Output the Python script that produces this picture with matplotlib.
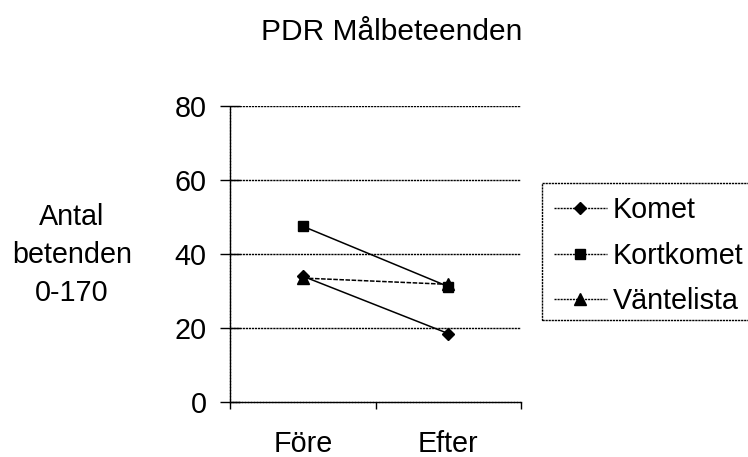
import matplotlib
matplotlib.use("Agg")
import matplotlib.pyplot as plt
from matplotlib.lines import Line2D
from matplotlib.patches import Rectangle

plt.rcParams['font.family'] = ['Liberation Sans', 'DejaVu Sans']

categories = ["Före", "Efter"]
series_names = ["Komet", "Kortkomet", "Väntelista"]
komet = [34, 18.5]
kortkomet = [47.5, 31.2]
vantelista = [33.5, 31.8]
yticks = [0, 20, 40, 60, 80]
title = "PDR Målbeteenden"
ylabel = "Antal\nbetenden\n0-170"

FS = 20.7
W, H = 748, 457
fig = plt.figure(figsize=(7.48, 4.57), dpi=100)
ax = fig.add_axes([230/W, 1-402/H, (521-230)/W, (402-106)/H])

xpos = [0.5, 1.5]
markers = ['D', 's', '^']
msizes = [6.5, 7, 8.5]
data = [komet, kortkomet, vantelista]
styles = ['-', '-', (0, (3, 1))]
for vals, m, ms, ls in zip(data, markers, msizes, styles):
    ax.plot(xpos, vals, color='black', lw=1.1, ls=ls, marker=m, ms=ms,
            markerfacecolor='black', markeredgecolor='black', zorder=3)

dot = (0, (1.6, 0.6))
ax.set_xlim(0, 2)
ax.set_ylim(0, 80)
ax.set_yticks(yticks)
ax.set_yticklabels([str(v) for v in yticks], fontsize=FS)
for y in yticks[1:]:
    ax.axhline(y, color='black', lw=1.0, ls=dot, zorder=1)
ax.set_xticks([0, 1, 2])
ax.set_xticklabels(['', '', ''])
ax.set_xticks(xpos, minor=True)
ax.set_xticklabels(categories, minor=True, fontsize=FS)
ax.tick_params(axis='x', which='minor', length=0, pad=20.5)
ax.tick_params(axis='x', which='major', direction='out', length=5, width=1.0)
ax.tick_params(axis='y', direction='inout', length=14, width=1.0, pad=10)
for s in ['top', 'right']:
    ax.spines[s].set_visible(False)
for s in ['left', 'bottom']:
    ax.spines[s].set_linestyle(dot)
    ax.spines[s].set_linewidth(1.0)

fig.text(392/W, 1-32/H, title, fontsize=21.5, ha='center', va='center')
fig.text(72/W, 1-255/H, ylabel, fontsize=FS, ha='center', va='center',
         linespacing=1.45)

handles = [Line2D([], [], color='black', lw=1.0, ls=(0, (1.5, 0.7)), marker=m,
                  ms=ms, markerfacecolor='black', markeredgecolor='black')
           for m, ms in zip(markers, msizes)]
leg = fig.legend(handles, series_names, loc='upper left',
                 bbox_to_anchor=(542/W, 1-185/H), borderaxespad=0,
                 fontsize=FS, frameon=False, handlelength=1.85,
                 handletextpad=0.22, borderpad=0.4, labelspacing=0.6)

frame = Rectangle((542/W, 1-320/H), (760-542)/W, (320-183)/H,
                  transform=fig.transFigure, fill=False, edgecolor='black',
                  lw=1.0, ls=dot, clip_on=False)
fig.add_artist(frame)

fig.savefig('out.png', dpi=100)
